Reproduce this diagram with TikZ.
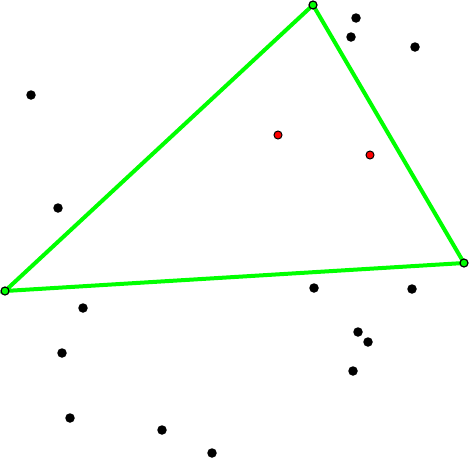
\documentclass[tikz,border=0pt]{standalone}
\usepackage{tikz}
\usetikzlibrary{positioning}
\usepackage{xcolor}
\definecolor{hullgreen}{RGB}{0,255,0}
\definecolor{insidered}{RGB}{255,0,0}

\begin{document}
\begin{tikzpicture}[x=1pt,y=-1pt,
  ptdot/.style={circle,fill=black,inner sep=0pt,minimum size=9.5pt},
  reddot/.style={circle,fill=insidered,draw=black,line width=1pt,inner sep=0pt,minimum size=8pt},
  hullvertex/.style={circle,fill=hullgreen,draw=black,line width=1.2pt,inner sep=0pt,minimum size=8pt},
  hulledge/.style={hullgreen,line width=4pt}]
\useasboundingbox (0,0) rectangle (469,458);
% hull vertices
\coordinate (vtop) at (313,5);
\coordinate (vright) at (464,263);
\coordinate (vleft) at (5,291);
\draw[hulledge] (vtop) -- (vright) -- (vleft) -- cycle;
\node[hullvertex] (htop) at (vtop) {};
\node[hullvertex] (hright) at (vright) {};
\node[hullvertex] (hleft) at (vleft) {};
% points inside
\node[reddot] (r1) at (278,135) {};
\node[reddot] (r2) at (370,155) {};
% other points
\node[ptdot] (p1) at (356,18) {};
\node[ptdot] (p2) at (351,37) {};
\node[ptdot] (p3) at (415,47) {};
\node[ptdot] (p4) at (31,95) {};
\node[ptdot] (p5) at (58,208) {};
\node[ptdot] (p6) at (314,288) {};
\node[ptdot] (p7) at (412,289) {};
\node[ptdot] (p8) at (83,308) {};
\node[ptdot] (p9) at (358,332) {};
\node[ptdot] (p10) at (368,342) {};
\node[ptdot] (p11) at (62,353) {};
\node[ptdot] (p12) at (353,371) {};
\node[ptdot] (p13) at (70,418) {};
\node[ptdot] (p14) at (162,430) {};
\node[ptdot] (p15) at (212,453) {};
\end{tikzpicture}
\end{document}
